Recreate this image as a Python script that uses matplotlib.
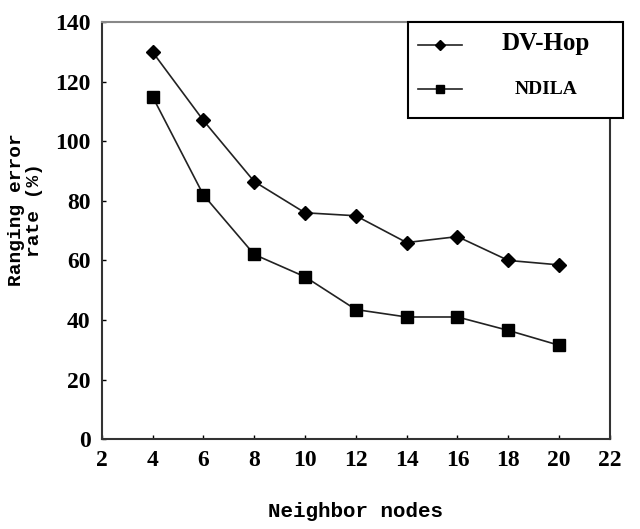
import matplotlib.pyplot as plt
import matplotlib.patches as mpatches
import matplotlib.transforms as mtransforms

# Datos
neighbor_nodes = [4, 6, 8, 10, 12, 14, 16, 18, 20]
dv_hop = [130, 107, 86.5, 76, 75, 66, 68, 60, 58.5]
ndila = [115, 82, 62, 54.5, 43.5, 41, 41, 36.5, 31.5]
x_ticks = [2, 4, 6, 8, 10, 12, 14, 16, 18, 20, 22]
y_ticks = [0, 20, 40, 60, 80, 100, 120, 140]

fig = plt.figure(figsize=(6.4, 5.29), dpi=100)
ax = fig.add_axes([0.159, 0.170, 0.794, 0.788])

serif = 'Liberation Serif'
mono = 'Liberation Mono'

ax.plot(neighbor_nodes, dv_hop, color='#222222', linewidth=1.2,
        marker='D', markersize=7, markerfacecolor='black',
        markeredgecolor='black', label='DV-Hop')
ax.plot(neighbor_nodes, ndila, color='#222222', linewidth=1.2,
        marker='s', markersize=8, markerfacecolor='black',
        markeredgecolor='black', label='NDILA')

ax.set_xlim(2, 22)
ax.set_ylim(0, 140)
ax.set_xticks(x_ticks)
ax.set_yticks(y_ticks)
ax.tick_params(direction='in', length=3, width=1, pad=8)
for lab in ax.get_xticklabels() + ax.get_yticklabels():
    lab.set_fontfamily(serif)
    lab.set_fontweight('bold')
    lab.set_fontsize(17)

for side in ['left', 'bottom', 'right']:
    ax.spines[side].set_linewidth(1.5)
    ax.spines[side].set_color('#333333')
ax.spines['top'].set_linewidth(1.5)
ax.spines['top'].set_color('#888888')

ax.set_xlabel('Neighbor nodes', fontfamily=mono, fontweight='bold',
              fontsize=15, labelpad=22)
fig.text(0.040, 0.603, 'Ranging error\nrate (%)', rotation=90,
         fontfamily=mono, fontweight='bold', fontsize=14,
         ha='center', va='center', linespacing=1.1)

# Caja de la leyenda dibujada a mano (coordenadas de figura)
box = mpatches.Rectangle((0.6375, 0.777), 0.3355, 0.181,
                         transform=fig.transFigure, facecolor='white',
                         edgecolor='black', linewidth=1.5, zorder=4,
                         clip_on=False)
ax.add_patch(box)

leg = ax.legend(loc='upper left', bbox_to_anchor=(0.6375, 0.958),
                bbox_transform=fig.transFigure, borderaxespad=0,
                frameon=False, handlelength=3.2, handletextpad=2.85,
                labelspacing=1.9, borderpad=0.7, markerscale=0.8)
leg.set_zorder(5)
texts = leg.get_texts()
texts[0].set_fontfamily(serif)
texts[0].set_fontweight('bold')
texts[0].set_fontsize(18)
texts[1].set_fontfamily(serif)
texts[1].set_fontweight('bold')
texts[1].set_fontsize(14)
shift = mtransforms.ScaledTranslation(0.13, 0, fig.dpi_scale_trans)
texts[1].set_transform(texts[1].get_transform() + shift)

fig.savefig('out.png', dpi=100, facecolor='white')
plt.close(fig)
